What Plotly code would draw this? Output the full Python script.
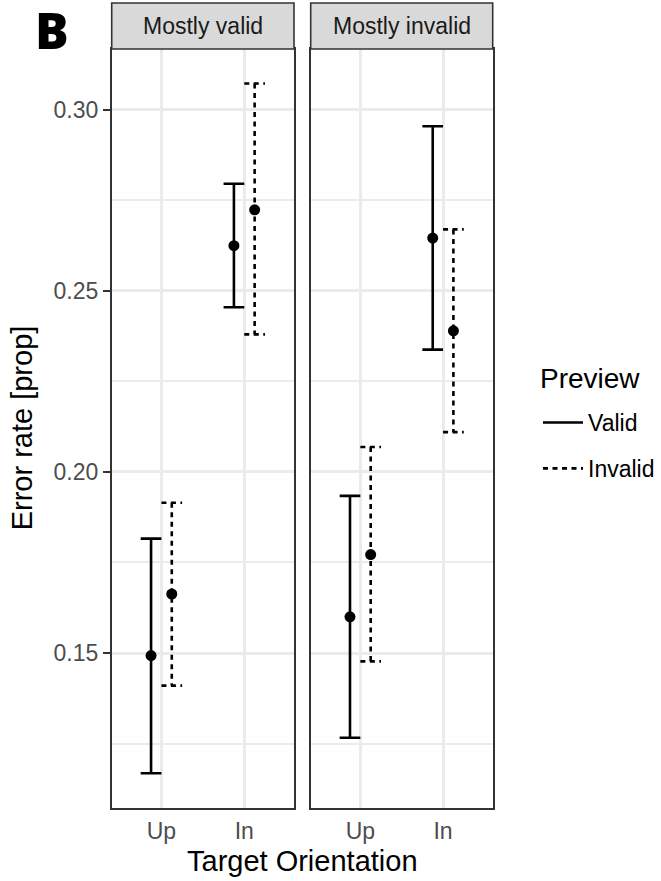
import plotly.graph_objects as go

# Facets, x categories and legend series
panels = ["Mostly valid", "Mostly invalid"]
orientations = ["Up", "In"]
previews = ["Valid", "Invalid"]

# Error rate (proportion): mean and interval bounds, one row per facet, one value per orientation
valid_mean = [[0.1493, 0.2625], [0.1600, 0.2646]]
valid_low = [[0.1168, 0.2455], [0.1266, 0.2338]]
valid_high = [[0.1816, 0.2796], [0.1934, 0.2955]]

invalid_mean = [[0.1663, 0.2724], [0.1772, 0.2390]]
invalid_low = [[0.1410, 0.2380], [0.1477, 0.2110]]
invalid_high = [[0.1915, 0.3073], [0.2069, 0.2670]]

y_ticks = [0.15, 0.20, 0.25, 0.30]
y_minor = [0.125, 0.175, 0.225, 0.275]

# Styling
W, H = 661, 881
FONT = "Liberation Sans, Arial, Helvetica, sans-serif"
DODGE = 0.125
CAP = 0.25
LINE_W = 2.6
DASHES = {"Valid": "solid", "Invalid": "5px,4.5px"}

series = [
    ("Valid", valid_mean, valid_low, valid_high, -DODGE),
    ("Invalid", invalid_mean, invalid_low, invalid_high, DODGE),
]

# y range: data span with 5% padding on both sides
all_lo = min(min(r) for r in valid_low + invalid_low)
all_hi = max(max(r) for r in valid_high + invalid_high)
pad = (all_hi - all_lo) * 0.05
y_range = [all_lo - pad, all_hi + pad]

# Panel geometry (pixels)
panel_x = [(111.7, 294.0), (310.7, 492.7)]
panel_top, panel_bottom = 49.0, 807.7
strip_top = 3.0


def px_x(v):
    return v / W


def px_y(v):
    return (H - v) / H


fig = go.Figure()

for p_i, panel in enumerate(panels):
    suffix = "" if p_i == 0 else str(p_i + 1)
    for name, mean, low, high, off in series:
        xs, ys = [], []
        for o_i in range(len(orientations)):
            xc = o_i + 1 + off
            hi = high[p_i][o_i]
            lo = low[p_i][o_i]
            xs += [xc - CAP / 2, xc + CAP / 2, None, xc, xc, None,
                   xc - CAP / 2, xc + CAP / 2, None]
            ys += [hi, hi, None, hi, lo, None, lo, lo, None]
        fig.add_trace(go.Scatter(
            x=xs, y=ys, mode="lines",
            line=dict(color="black", width=LINE_W, dash=DASHES[name]),
            name=name, legendgroup=name, showlegend=(p_i == 0),
            connectgaps=False, hoverinfo="skip",
            xaxis="x" + suffix, yaxis="y" + suffix,
        ))
    for name, mean, low, high, off in series:
        fig.add_trace(go.Scatter(
            x=[o_i + 1 + off for o_i in range(len(orientations))],
            y=mean[p_i], mode="markers",
            marker=dict(color="black", size=11),
            name=name, legendgroup=name, showlegend=False,
            xaxis="x" + suffix, yaxis="y" + suffix,
        ))

axis_common = dict(
    showline=True, mirror=True, linecolor="#333333", linewidth=1.6,
    showgrid=True, gridcolor="#EBEBEB", gridwidth=3, zeroline=False,
)

xdom = [[px_x(a), px_x(b)] for a, b in panel_x]
ydom = [px_y(panel_bottom), px_y(panel_top)]

for p_i in range(len(panels)):
    key = "" if p_i == 0 else str(p_i + 1)
    fig.update_layout(**{
        "xaxis" + key: dict(
            axis_common, domain=xdom[p_i], range=[0.4, 2.6],
            tickmode="array", tickvals=[1, 2], ticktext=orientations,
            ticks="outside", ticklen=2, tickcolor="rgba(0,0,0,0)",
            tickfont=dict(family=FONT, size=23, color="#4D4D4D"),
            anchor="y" + key, fixedrange=True,
        ),
        "yaxis" + key: dict(
            axis_common, domain=ydom, range=y_range,
            tickmode="array", tickvals=y_ticks,
            ticktext=[f"{v:.2f}" for v in y_ticks],
            showticklabels=(p_i == 0),
            ticks="outside" if p_i == 0 else "", ticklen=7, tickwidth=2,
            tickcolor="#333333",
            tickfont=dict(family=FONT, size=23, color="#4D4D4D"),
            minor=dict(tickvals=y_minor, showgrid=True, gridcolor="#EBEBEB",
                       gridwidth=1.6, ticks=""),
            anchor="x" + key, fixedrange=True,
        ),
    })

shapes = []
annotations = []
for p_i, panel in enumerate(panels):
    x0, x1 = panel_x[p_i]
    shapes.append(dict(
        type="rect", xref="paper", yref="paper",
        x0=px_x(x0), x1=px_x(x1), y0=px_y(panel_top), y1=px_y(strip_top),
        fillcolor="#D9D9D9", line=dict(color="#333333", width=1.6),
    ))
    annotations.append(dict(
        text=panel, xref="paper", yref="paper",
        x=px_x((x0 + x1) / 2), y=px_y((strip_top + panel_top) / 2),
        xanchor="center", yanchor="middle", showarrow=False,
        font=dict(family=FONT, size=23, color="#1A1A1A"),
    ))

annotations += [
    dict(text="Target Orientation", xref="paper", yref="paper",
         x=px_x((panel_x[0][0] + panel_x[1][1]) / 2), y=px_y(861),
         xanchor="center", yanchor="middle", showarrow=False,
         font=dict(family=FONT, size=29, color="black")),
    dict(text="Error rate [prop]", xref="paper", yref="paper",
         x=px_x(22), y=px_y((panel_top + panel_bottom) / 2),
         xanchor="center", yanchor="middle", textangle=-90, showarrow=False,
         font=dict(family=FONT, size=29, color="black")),
    dict(text="Preview", xref="paper", yref="paper",
         x=px_x(538), y=px_y(378), xanchor="left", yanchor="middle",
         showarrow=False,
         font=dict(family=FONT, size=28, color="black")),
    dict(text="B", xref="paper", yref="paper",
         x=px_x(33), y=px_y(-6), xanchor="left", yanchor="top",
         showarrow=False,
         font=dict(family="Open Sans, sans-serif", size=50, color="black",
                   weight=800)),
]

fig.update_layout(
    width=W, height=H,
    margin=dict(l=0, r=0, t=0, b=0),
    paper_bgcolor="white", plot_bgcolor="white",
    shapes=shapes, annotations=annotations,
    showlegend=True,
    legend=dict(
        x=px_x(538), y=px_y(401), xanchor="left", yanchor="top",
        font=dict(family=FONT, size=23, color="black"),
        tracegroupgap=13, traceorder="grouped", itemwidth=40,
        bgcolor="rgba(0,0,0,0)",
    ),
)

fig.write_html("out.html")
